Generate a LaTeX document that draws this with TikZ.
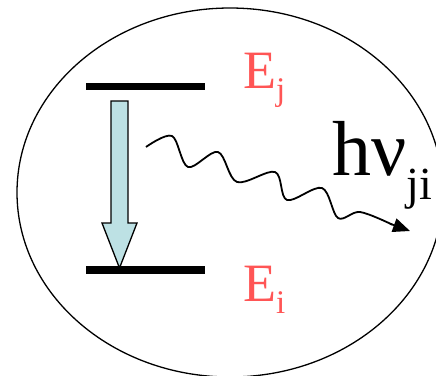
\documentclass[tikz,border=0pt]{standalone}
\usepackage{fontspec}
\setmainfont{Liberation Serif}
\usetikzlibrary{arrows.meta}
\definecolor{lvlred}{HTML}{FF5555}
\definecolor{arrowfill}{HTML}{BDE1E4}
\tikzset{
  level/.style={line width=7.5pt},
  lbl/.style={inner sep=0pt, anchor=base west, text=lvlred, font=\fontsize{54}{54}\selectfont},
  photon/.style={line width=1.8pt, line join=round},
}
\newcommand{\mysub}[3]{\raisebox{-#1pt}{\fontsize{#2}{#2}\selectfont #3}}
\begin{document}
\begin{tikzpicture}[x=1pt,y=-1pt]
\useasboundingbox (0,0) rectangle (436,375);
\begin{scope}
\clip (0,0) rectangle (436,375);
% enclosing ellipse
\draw[line width=1.3pt] (230,192.5) ellipse [x radius=213pt, y radius=184.5pt];
\end{scope}
% energy levels
\coordinate (jL) at (86,86.5);
\coordinate (jR) at (205,86.5);
\coordinate (iL) at (86,270);
\coordinate (iR) at (205,270);
\draw[level] (jL) -- (jR);
\draw[level] (iL) -- (iR);
% transition arrow
\draw[line width=1.3pt, fill=arrowfill, line join=miter]
  (111,101) -- (128,101) -- (128,223) -- (137,223) -- (119.5,268) -- (102,223) -- (111,223) -- cycle;
% labels
\node[lbl] (Ej) at (243,88) {E\mysub{12}{33}{j}};
\node[lbl] (Ei) at (243,301) {E\mysub{12}{33}{i}};
\node[inner sep=0pt, anchor=base west, font=\fontsize{78}{78}\selectfont] (hv) at (332,175) {hν\mysub{24}{46}{ji}};
% photon
\coordinate (ps) at (146,147);
\coordinate (pe) at (410,231);
\draw[photon] plot[smooth, tension=0.55] coordinates {(ps) (172,136) (188,167) (218,152) (237,182) (275,172) (287,200) (322,188) (338,218) (360,212) (392,224.5)};
\draw[photon, -{Triangle[length=17pt,width=14pt]}] (390,223.7) -- (pe);
\end{tikzpicture}
\end{document}
